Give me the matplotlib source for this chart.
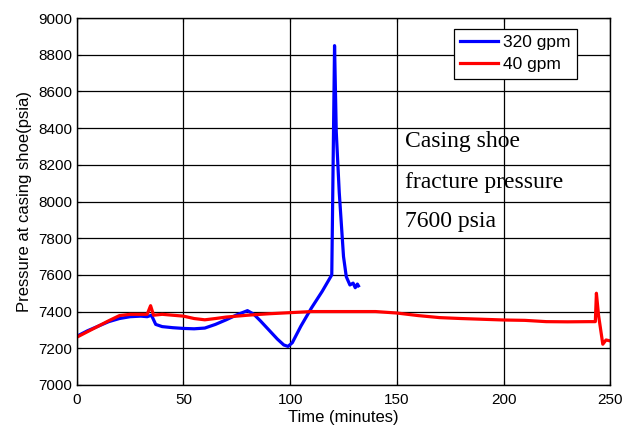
import matplotlib.pyplot as plt

# 320 gpm series (minutes, psia)
t320 = [0, 5, 10, 15, 20, 25, 30, 33, 35, 37, 40, 45, 50, 55, 60, 65, 70, 75, 80,
        83, 86, 90, 94, 97, 99, 101, 105, 110, 115, 119.5, 120.8, 121.6, 123, 125, 126.3, 128, 129.5, 130.5, 131.5, 132]
p320 = [7265, 7295, 7320, 7345, 7362, 7372, 7375, 7372, 7380, 7330, 7318, 7312, 7308, 7306, 7310, 7330, 7355, 7382, 7405,
        7385, 7350, 7300, 7250, 7218, 7210, 7230, 7320, 7420, 7510, 7600, 8850, 8380, 8050, 7700, 7590, 7545, 7555, 7530, 7550, 7540]

# 40 gpm series
t40 = [0, 5, 10, 15, 20, 25, 30, 33, 34.6, 36, 40, 45, 50, 55, 60, 65, 70, 80, 90, 100, 110,
       120, 130, 140, 150, 160, 170, 180, 190, 200, 210, 220, 230, 240, 243, 243.5, 244.5, 246.5, 248, 250]
p40 = [7260, 7290, 7320, 7350, 7378, 7385, 7385, 7385, 7432, 7380, 7385, 7380, 7375, 7362, 7355, 7362, 7370, 7380, 7388, 7394, 7400,
       7400, 7400, 7400, 7392, 7378, 7367, 7362, 7358, 7354, 7352, 7345, 7344, 7345, 7345, 7500, 7380, 7222, 7245, 7240]

xticks = [0, 50, 100, 150, 200, 250]
yticks = list(range(7000, 9001, 200))

fig = plt.figure(figsize=(6.24, 4.32), dpi=100)
ax = fig.add_axes([0.123, 0.109, 0.855, 0.849])

ax.plot(t320, p320, color='#0000ff', lw=2.3, label='320 gpm')
ax.plot(t40, p40, color='#ff0000', lw=2.3, label='40 gpm')

ax.set_xlim(0, 250)
ax.set_ylim(7000, 9000)
ax.set_xticks(xticks)
ax.set_yticks(yticks)
ax.grid(True, color='black', lw=0.9, ls='-')
ax.tick_params(direction='in', labelsize=11, top=True, right=True, length=3)
ax.tick_params(axis='x', pad=6)
for s in ax.spines.values():
    s.set_linewidth(1.0)
for lab in ax.get_xticklabels() + ax.get_yticklabels():
    lab.set_family('Liberation Sans')

ax.set_xlabel('Time (minutes)', fontsize=12, family='Liberation Sans', labelpad=2)
ax.set_ylabel('Pressure at casing shoe(psia)', fontsize=12, family='Liberation Sans', labelpad=4)

leg = ax.legend(loc='upper right', bbox_to_anchor=(0.937, 0.970),
                prop={'family': 'Liberation Sans', 'size': 12.5}, fancybox=False,
                edgecolor='black', framealpha=1, handlelength=2.2, borderpad=0.35,
                labelspacing=0.4, handletextpad=0.3, borderaxespad=0)
leg.get_frame().set_linewidth(0.9)

# annotation (baseline positions in data coords)
ax.text(153.8, 8299, 'Casing shoe', family='Liberation Serif', fontsize=17)
ax.text(153.8, 8074, 'fracture pressure', family='Liberation Serif', fontsize=17)
ax.text(153.8, 7863, '7600 psia', family='Liberation Serif', fontsize=17)

fig.savefig('out.png', dpi=100)
